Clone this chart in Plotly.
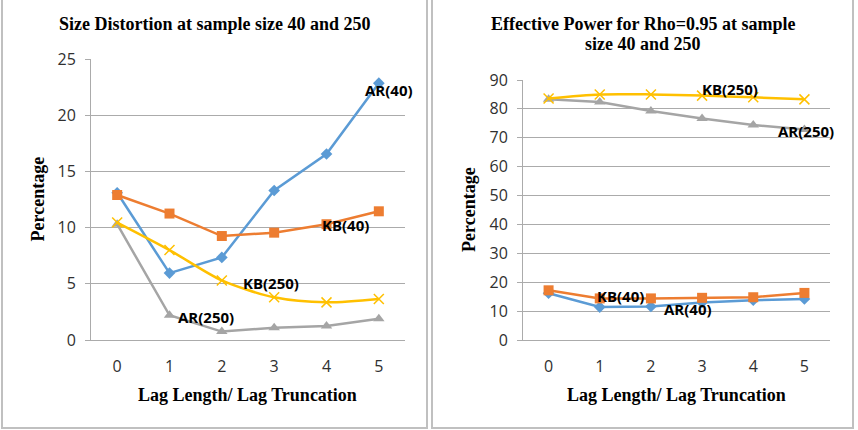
import plotly.graph_objects as go

lags = [0, 1, 2, 3, 4, 5]

# Left panel: Size Distortion
size_ar40 = [13.1, 5.95, 7.35, 13.3, 16.55, 22.85]
size_kb40 = [12.9, 11.25, 9.25, 9.55, 10.3, 11.45]
size_ar250 = [10.3, 2.2, 0.75, 1.1, 1.25, 1.9]
size_kb250 = [10.45, 8.0, 5.3, 3.8, 3.35, 3.65]

# Right panel: Effective Power
pow_ar40 = [16.2, 11.4, 11.6, 13.0, 13.8, 14.2]
pow_kb40 = [17.2, 14.4, 14.4, 14.6, 14.8, 16.3]
pow_ar250 = [83.3, 82.4, 79.3, 76.7, 74.4, 72.9]
pow_kb250 = [83.6, 85.0, 85.0, 84.6, 84.0, 83.3]

names = ["AR(40)", "KB(40)", "AR(250)", "KB(250)"]
colors = ["#5B9BD5", "#ED7D31", "#A5A5A5", "#FFC000"]
symbols = ["diamond", "square", "triangle-up", "x-thin"]
msizes = [9, 10, 10, 10]
shapes_ = ["linear", "linear", "linear", "spline"]

W, H = 858, 430
fig = go.Figure()

def add_series(vals_list, xa, ya):
    for v, n, c, s, ms, sh in zip(vals_list, names, colors, symbols, msizes, shapes_):
        marker = dict(color=c, symbol=s, size=ms)
        if s == "x-thin":
            marker["line"] = dict(color=c, width=1.5)
        fig.add_trace(go.Scatter(
            x=lags, y=v, mode="lines+markers", name=n,
            line=dict(color=c, width=2.5, shape=sh, smoothing=0.8),
            marker=marker, xaxis=xa, yaxis=ya, showlegend=False,
            cliponaxis=False))

add_series([size_ar40, size_kb40, size_ar250, size_kb250], "x", "y")
add_series([pow_ar40, pow_kb40, pow_ar250, pow_kb250], "x2", "y2")

grid = "#ABABAB"
tickfont = dict(family="Open Sans", size=16, color="#303030")
xcommon = dict(range=[-0.5, 5.5], tickvals=lags, showgrid=False, showline=True,
               linecolor=grid, linewidth=1, ticks="", tickfont=tickfont,
               ticklabelstandoff=12, zeroline=False, fixedrange=True,
               automargin=False)
ycommon = dict(showgrid=True, gridcolor=grid, gridwidth=1, showline=True,
               linecolor=grid, linewidth=1, ticks="outside", ticklen=5,
               tickcolor=grid, tickfont=tickfont, zeroline=False,
               ticklabelstandoff=6, fixedrange=True, automargin=False)

fig.update_layout(
    template="none",
    width=W, height=H,
    margin=dict(l=0, r=0, t=0, b=0, autoexpand=False),
    paper_bgcolor="white", plot_bgcolor="white",
    xaxis=dict(domain=[91 / W, 405 / W], anchor="y", **xcommon),
    yaxis=dict(domain=[(H - 340) / H, (H - 59) / H], anchor="x",
               range=[0, 25], dtick=5, **ycommon),
    xaxis2=dict(domain=[523 / W, 830 / W], anchor="y2", **xcommon),
    yaxis2=dict(domain=[(H - 340) / H, (H - 80) / H], anchor="x2",
                range=[0, 90], dtick=10, **ycommon),
)

# Panel borders
border = "#C0C0C0"
fig.add_shape(type="rect", xref="paper", yref="paper",
              x0=2 / W, x1=427 / W, y0=(H - 428) / H, y1=1.02,
              line=dict(color=border, width=2))
fig.add_shape(type="rect", xref="paper", yref="paper",
              x0=432 / W, x1=853 / W, y0=(H - 428) / H, y1=1.02,
              line=dict(color=border, width=2))

titlefont = dict(family="Liberation Serif", size=18, color="black")
axfont = dict(family="Liberation Serif", size=18, color="black")
ann = []
title_lines = [("Size Distortion at sample size 40 and 250", 214, 24),
               ("Effective Power for Rho=0.95 at sample", 643, 24),
               ("size 40 and 250", 643, 44)]
for t, cx, cy in title_lines:
    ann.append(dict(text="<b>%s</b>" % t,
                    x=cx / W, y=(H - cy) / H, xref="paper", yref="paper",
                    showarrow=False, font=titlefont, xanchor="center", yanchor="middle"))
for cx in (248, 676.5):
    ann.append(dict(text="<b>Lag Length/ Lag Truncation</b>",
                    x=cx / W, y=(H - 395) / H, xref="paper", yref="paper",
                    showarrow=False, font=axfont, xanchor="center", yanchor="middle"))
for cx, cy in ((37, 199.5), (469, 210)):
    ann.append(dict(text="<b>Percentage</b>", textangle=-90,
                    x=cx / W, y=(H - cy) / H, xref="paper", yref="paper",
                    showarrow=False, font=axfont, xanchor="center", yanchor="middle"))

lblfont = dict(family="Open Sans", size=15, color="black")
labels_left = [("AR(40)", 5.2, 22.2), ("KB(40)", 4.36, 10.2),
               ("KB(250)", 2.93, 5.07), ("AR(250)", 1.70, 2.05)]
labels_right = [("KB(250)", 3.54, 86.9), ("AR(250)", 5.04, 72.3),
                ("KB(40)", 1.41, 15.2), ("AR(40)", 2.73, 10.7)]
for t, x, y in labels_left:
    ann.append(dict(text="<b>%s</b>" % t, x=x, y=y, xref="x", yref="y",
                    showarrow=False, font=lblfont))
for t, x, y in labels_right:
    ann.append(dict(text="<b>%s</b>" % t, x=x, y=y, xref="x2", yref="y2",
                    showarrow=False, font=lblfont))
fig.update_layout(annotations=ann)

fig.write_html("out.html")
